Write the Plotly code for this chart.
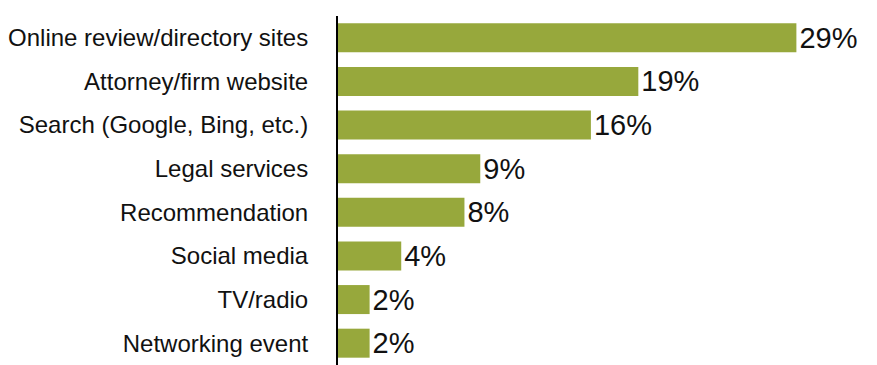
import plotly.graph_objects as go

# Sources used to find a lawyer (share of respondents)
sources = [
    "Online review/directory sites",
    "Attorney/firm website",
    "Search (Google, Bing, etc.)",
    "Legal services",
    "Recommendation",
    "Social media",
    "TV/radio",
    "Networking event",
]
shares = [29, 19, 16, 9, 8, 4, 2, 2]
labels = [f"{v}%" for v in shares]

BAR_COLOR = "#97a83c"
FONT = "Liberation Sans, Arial, Helvetica, sans-serif"

fig = go.Figure(
    go.Bar(
        x=shares,
        y=sources,
        orientation="h",
        marker=dict(color=BAR_COLOR, line=dict(width=0)),
        text=labels,
        textposition="outside",
        textfont=dict(size=29, color="#111111", family=FONT),
        cliponaxis=False,
        hoverinfo="skip",
    )
)

fig.update_layout(
    width=877,
    height=365,
    margin=dict(l=338, r=0, t=16, b=0),
    paper_bgcolor="white",
    plot_bgcolor="white",
    bargap=0.335,
    showlegend=False,
    font=dict(family=FONT, color="#111111"),
    uniformtext=dict(mode="show", minsize=29),
)

fig.update_xaxes(
    range=[0, 34.1],
    visible=False,
    showgrid=False,
    zeroline=False,
)

fig.update_yaxes(
    categoryorder="array",
    categoryarray=sources,
    autorange="reversed",
    showgrid=False,
    zeroline=False,
    showline=True,
    linecolor="#000000",
    linewidth=2,
    ticks="",
    ticklabelstandoff=23,
    tickfont=dict(size=24, color="#111111", family=FONT),
)

fig.write_html("out.html")
